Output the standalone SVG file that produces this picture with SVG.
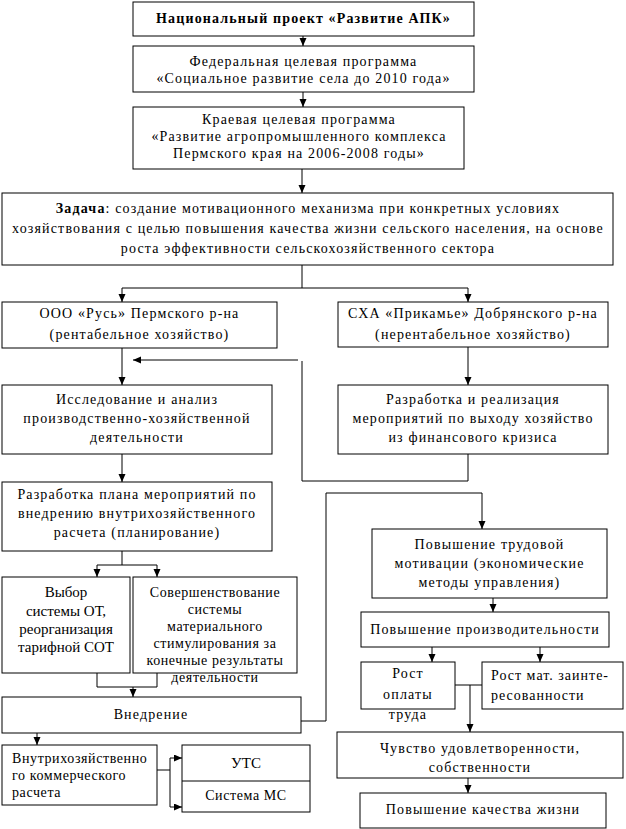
<svg xmlns="http://www.w3.org/2000/svg" width="626" height="829" viewBox="0 0 626 829">
<style>
rect{fill:#fff;stroke:#000;stroke-width:1}
text{font-size:14px;letter-spacing:1.15px;fill:#000}
.c{text-anchor:middle}
.b{font-weight:bold}
.s{letter-spacing:0.6px}
.l{font-size:14px;letter-spacing:0.6px}
.xl{font-size:15px;letter-spacing:0px}
.cn path{fill:none;stroke:#000;stroke-width:1}
</style>
<defs>
<marker id="a" markerUnits="userSpaceOnUse" markerWidth="8" markerHeight="8" refX="8" refY="3.5" orient="auto">
<path d="M0,0 L8,3.5 L0,7 z" fill="#000"/>
</marker>
</defs>
<g class="cn">
<path d="M303,36 V46" marker-end="url(#a)"/>
<path d="M303,92 V107" marker-end="url(#a)"/>
<path d="M302,169 V193" marker-end="url(#a)"/>
<path d="M302,265 V288"/>
<path d="M122,288 H468"/>
<path d="M122,288 V302" marker-end="url(#a)"/>
<path d="M468,288 V302" marker-end="url(#a)"/>
<path d="M122,348 V385" marker-end="url(#a)"/>
<path d="M468,347 V385" marker-end="url(#a)"/>
<path d="M468,454 V481 H302 V361"/>
<path d="M298,360 H133" marker-end="url(#a)"/>
<path d="M122,454 V482" marker-end="url(#a)"/>
<path d="M122,551 V565"/>
<path d="M97,565 H157"/>
<path d="M97,565 V577" marker-end="url(#a)"/>
<path d="M157,565 V577" marker-end="url(#a)"/>
<path d="M97,673 V687 H157 V673"/>
<path d="M133,687 V697" marker-end="url(#a)"/>
<path d="M301,721 H326 V493 H482 V529" marker-end="url(#a)"/>
<path d="M493,598 V612" marker-end="url(#a)"/>
<path d="M432,647 V662" marker-end="url(#a)"/>
<path d="M540,647 V662" marker-end="url(#a)"/>
<path d="M455,685 H482"/>
<path d="M470,685 V732" marker-end="url(#a)"/>
<path d="M468,778 V793" marker-end="url(#a)"/>
<path d="M37,733 V745" marker-end="url(#a)"/>
<path d="M157,770 H170"/>
<path d="M170,758 V807"/>
<path d="M170,758 H182" marker-end="url(#a)"/>
<path d="M170,807 H182" marker-end="url(#a)"/>
</g>
<g font-family="Liberation Serif, Times New Roman, serif">
<g id="n1"><rect x="133" y="2" width="341" height="34"/><text class="c b" x="303.5" y="23">Национальный проект «Развитие АПК»</text></g>
<g id="n2"><rect x="133" y="46" width="341" height="46"/><text class="c" x="303.5" y="66">Федеральная целевая программа</text><text class="c" x="303.5" y="83">«Социальное развитие села до 2010 года»</text></g>
<g id="n3"><rect x="133" y="107" width="331" height="62"/><text class="c" x="299" y="124">Краевая целевая программа</text><text class="c" x="299" y="141">«Развитие агропромышленного комплекса</text><text class="c" x="299" y="158">Пермского края на 2006-2008 годы»</text></g>
<g id="n4"><rect x="2" y="193" width="611" height="72"/><text class="c" x="308" y="213"><tspan class="b">Задача</tspan>: создание мотивационного механизма при конкретных условиях</text><text class="c" x="308" y="233">хозяйствования с целью повышения качества жизни сельского населения, на основе</text><text class="c" x="308" y="253">роста эффективности сельскохозяйственного сектора</text></g>
<g id="n5"><rect x="2" y="302" width="275" height="46"/><text class="c" x="139.5" y="318">ООО «Русь» Пермского р-на</text><text class="c" x="139.5" y="339">(рентабельное хозяйство)</text></g>
<g id="n6"><rect x="338" y="302" width="270" height="45"/><text class="c" x="473" y="318">СХА «Прикамье» Добрянского р-на</text><text class="c" x="473" y="339">(нерентабельное хозяйство)</text></g>
<g id="n7"><rect x="2" y="385" width="270" height="69"/><text class="c" x="137" y="404">Исследование и анализ</text><text class="c" x="137" y="423">производственно-хозяйственной</text><text class="c" x="137" y="442">деятельности</text></g>
<g id="n8"><rect x="338" y="385" width="270" height="69"/><text class="c" x="473" y="404">Разработка и реализация</text><text class="c" x="473" y="423">мероприятий по выходу хозяйство</text><text class="c" x="473" y="442">из финансового кризиса</text></g>
<g id="n9"><rect x="2" y="482" width="270" height="69"/><text class="c" x="137" y="499">Разработка плана мероприятий по</text><text class="c" x="137" y="518">внедрению внутрихозяйственного</text><text class="c" x="137" y="537">расчета (планирование)</text></g>
<g id="n10"><rect x="2" y="577" width="128" height="96"/><text class="c xl" x="66" y="597">Выбор</text><text class="c xl" x="66" y="616">системы ОТ,</text><text class="c xl" x="66" y="634">реорганизация</text><text class="c xl" x="66" y="652">тарифной СОТ</text></g>
<g id="n11"><rect x="133" y="577" width="164" height="96"/><text class="c s" x="215" y="597">Совершенствование</text><text class="c s" x="215" y="614">системы</text><text class="c s" x="215" y="631">материального</text><text class="c s" x="215" y="648">стимулирования за</text><text class="c s" x="215" y="665">конечные результаты</text><text class="c s" x="215" y="682">деятельности</text></g>
<g id="n12"><rect x="2" y="697" width="299" height="36"/><text class="c" x="151" y="719">Внедрение</text></g>
<g id="n13"><rect x="372" y="529" width="235" height="69"/><text class="c" x="489.5" y="549">Повышение трудовой</text><text class="c" x="489.5" y="568">мотивации (экономические</text><text class="c" x="489.5" y="587">методы управления)</text></g>
<g id="n14"><rect x="361" y="612" width="248" height="35"/><text class="c" x="485" y="634">Повышение производительности</text></g>
<g id="n15"><rect x="361" y="662" width="94" height="47"/><text class="c" x="408" y="678">Рост</text><text class="c" x="408" y="699">оплаты</text><text class="c" x="408" y="719">труда</text></g>
<g id="n16"><rect x="482" y="662" width="141" height="47"/><text x="491" y="680" style="letter-spacing:1px">Рост мат. заинте-</text><text x="491" y="700" style="letter-spacing:1px">ресованности</text></g>
<g id="n17"><rect x="337" y="732" width="286" height="46"/><text class="c" x="480" y="753">Чувство удовлетворенности,</text><text class="c" x="480" y="772">собственности</text></g>
<g id="n18"><rect x="360" y="793" width="246" height="35"/><text class="c" x="483" y="814">Повышение качества жизни</text></g>
<g id="n19"><rect x="2" y="745" width="155" height="60"/><text class="l" x="12" y="763">Внутрихозяйственно</text><text class="l" x="12" y="780">го коммерческого</text><text class="l" x="12" y="797">расчета</text></g>
<g id="n20"><rect x="182" y="745" width="128" height="67"/><path d="M182,781 H310" stroke="#000" fill="none"/><text class="c xl" x="246" y="768">УТС</text><text class="c l" x="246" y="800">Система МС</text></g>
</g>
</svg>
